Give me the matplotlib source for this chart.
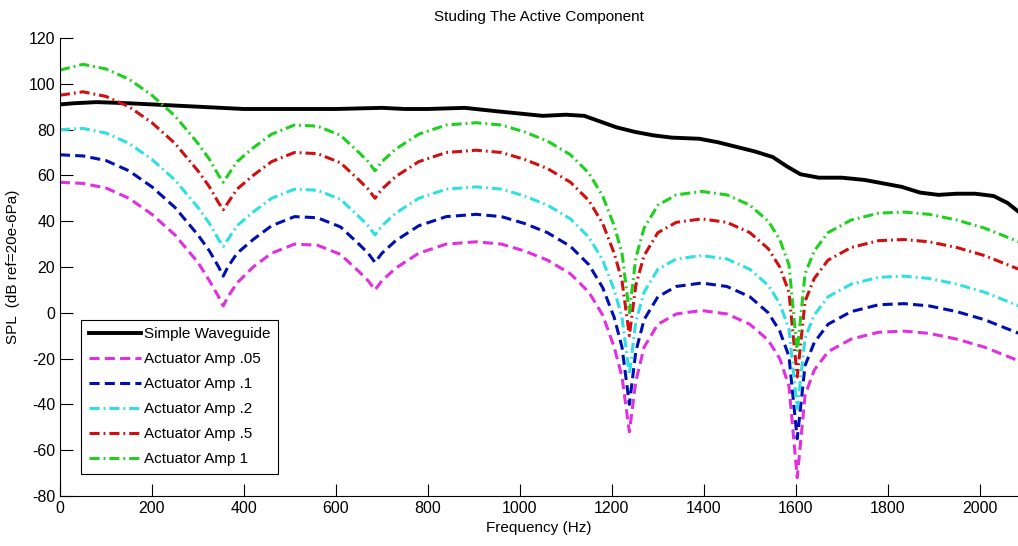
import matplotlib
matplotlib.use('Agg')
import matplotlib.pyplot as plt

# frequency grid (Hz) used for the actuator curves
freq = [0, 50, 100, 150, 200, 250, 300, 325, 345, 355, 365, 385, 420, 460, 510,
        560, 610, 650, 670, 685, 700, 730, 780, 840, 905, 960, 1010, 1060, 1110,
        1150, 1180, 1205, 1222, 1238, 1252, 1270, 1300, 1340, 1395, 1450, 1500,
        1540, 1565, 1585, 1603, 1620, 1640, 1670, 1720, 1780, 1835, 1890, 1950,
        2010, 2085]

amp_05 = [57, 56.5, 54.5, 50, 43, 34, 22, 14, 7, 3, 7, 13, 20, 26, 30,
          29.5, 25.5, 18, 14, 10, 14, 19.5, 26, 30, 31, 30, 27, 23, 17,
          9, -1, -15, -28, -52, -30, -15, -5, -0.5, 1, -0.5, -5,
          -12, -20, -32, -72, -36, -25, -17, -11.5, -8.5, -8, -9, -11.5,
          -15, -21]

amp_1 = [69, 68.5, 66.5, 62, 55, 46, 34, 27, 20, 16, 20, 26, 32, 38, 42,
         41.5, 37.5, 30, 26, 22, 26, 31.5, 38, 42, 43, 42, 39, 35, 29,
         21, 11, -2, -15, -40, -17, -3, 7, 11.5, 13, 11.5, 7,
         0, -8, -19, -55, -23, -13, -5, 0.5, 3.5, 4, 3, 0.5,
         -3, -9]

amp_2 = [80, 80.5, 78.5, 74, 67, 58, 46, 39, 32, 29, 32, 38, 44, 50, 54,
         53.5, 49.5, 42, 38, 34, 38, 43.5, 50, 54, 55, 54, 51, 47, 41,
         33, 23, 10, -2, -27, -4, 9, 19, 23.5, 25, 23.5, 19,
         12, 4, -7, -42, -11, -1, 7, 12.5, 15.5, 16, 15, 12.5,
         9, 3]

amp_5 = [95, 96.5, 94.5, 90, 83, 74, 62, 55, 48, 45, 48, 54, 60, 66, 70,
         69.5, 65.5, 58, 54, 50, 54, 59.5, 66, 70, 71, 70, 67, 63, 57,
         49, 39, 26, 14, -10, 12, 25, 35, 39.5, 41, 39.5, 35,
         28, 20, 9, -28, 5, 15, 23, 28.5, 31.5, 32, 31, 28.5,
         25, 19]

amp_10 = [106, 108.5, 106.5, 102, 95, 86, 74, 67, 60, 57, 60, 66, 72, 78, 82,
          81.5, 77.5, 70, 66, 62, 66, 71.5, 78, 82, 83, 82, 79, 75, 69,
          61, 51, 38, 26, 0, 24, 37, 47, 51.5, 53, 51.5, 47,
          40, 32, 21, -17, 17, 27, 35, 40.5, 43.5, 44, 43, 40.5,
          37, 31]

# simple waveguide
wg_freq = [0, 30, 80, 150, 200, 250, 300, 350, 400, 500, 600, 700, 750, 800,
           880, 950, 1000, 1050, 1100, 1140, 1175, 1210, 1250, 1290, 1330,
           1390, 1430, 1470, 1510, 1550, 1580, 1610, 1650, 1700, 1750, 1790,
           1830, 1870, 1910, 1950, 1990, 2030, 2060, 2085]
wg_spl = [91, 91.5, 92, 91.5, 91, 90.5, 90, 89.5, 89, 89, 89, 89.5, 89, 89,
          89.5, 88, 87, 86, 86.5, 86, 83.5, 81, 79, 77.5, 76.5,
          76, 74.5, 72.5, 70.5, 68, 64, 60.5, 59, 59, 58, 56.5,
          55, 52.5, 51.5, 52, 52, 51, 48, 44]

names = ['Actuator Amp .05', 'Actuator Amp .1', 'Actuator Amp .2',
         'Actuator Amp .5', 'Actuator Amp 1']

plt.rcParams['font.family'] = ['Liberation Sans', 'DejaVu Sans']
plt.rcParams['font.size'] = 11
plt.rcParams['axes.unicode_minus'] = False

fig = plt.figure(figsize=(10.18, 5.46), dpi=100)
ax = fig.add_axes([0.0589, 0.0916, 0.9411, 0.8388])

dash = (0, (3.3, 1.7))
dashdot = (0, (3.3, 1.3, 0.6, 1.3))

ax.plot(wg_freq, wg_spl, color='black', lw=2.8, label='Simple Waveguide')
ax.plot(freq, amp_05, color='#e030e0', lw=2.2, linestyle=dash, label=names[0])
ax.plot(freq, amp_1, color='#0010b0', lw=2.2, linestyle=dash, label=names[1])
ax.plot(freq, amp_2, color='#30e0e0', lw=2.2, linestyle=dashdot, label=names[2])
ax.plot(freq, amp_5, color='#d01010', lw=2.2, linestyle=dashdot, label=names[3])
ax.plot(freq, amp_10, color='#20d020', lw=2.2, linestyle=dashdot, label=names[4])

ax.set_xlim(0, 2083)
ax.set_ylim(-80, 120)
ax.set_xticks(range(0, 2001, 200))
ax.set_yticks(range(-80, 121, 20))

ax.spines['top'].set_visible(False)
ax.spines['right'].set_visible(False)
ax.tick_params(direction='in', length=9, width=0.8, labelsize=11.5)

ax.set_title('Studing The Active Component', fontsize=11, pad=12)
ax.set_xlabel('Frequency (Hz)', fontsize=11, labelpad=4)
ax.set_ylabel('SPL  (dB ref=20e-6Pa)', fontsize=11, labelpad=6)

leg = ax.legend(loc='lower left', bbox_to_anchor=(0.022, 0.048), fontsize=11,
                fancybox=False, framealpha=1, edgecolor='black',
                handlelength=3.4, handletextpad=0.2, labelspacing=0.72,
                borderpad=0.5, borderaxespad=0)
leg.get_frame().set_linewidth(0.8)

fig.savefig('out.png', dpi=100)
